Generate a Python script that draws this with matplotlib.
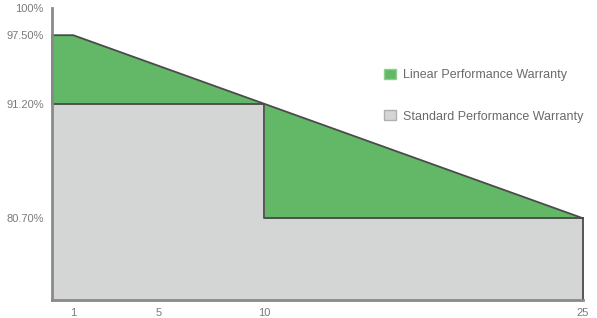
import matplotlib
matplotlib.use("Agg")
import matplotlib.pyplot as plt
from matplotlib.patches import Patch

# warranty curves (year -> % of nominal power)
linear_years = [0, 1, 10, 25]
linear_vals = [97.5, 97.5, 91.2, 80.7]
standard_years = [0, 10, 10, 25]
standard_vals = [91.2, 91.2, 80.7, 80.7]

x_ticks = [1, 5, 10, 25]
y_ticks = [80.7, 91.2, 97.5, 100]
y_labels = ["80.70%", "91.20%", "97.50%", "100%"]
series_names = ["Linear Performance Warranty", "Standard Performance Warranty"]

green = "#62b866"
grey = "#d4d6d6"
edge = "#4a4a4a"
txt = "#7a7a7a"
plt.rcParams["font.family"] = ["Liberation Sans", "DejaVu Sans"]

fig = plt.figure(figsize=(5.97, 3.18), dpi=100)
ax = fig.add_axes([0.0871, 0.0566, 0.8894, 0.9184])

# standard warranty (grey step)
ax.fill_between(standard_years, 0, standard_vals, color=grey, lw=0)
# linear warranty (green, between step and slope)
ax.fill_between([0, 1, 10], [97.5, 97.5, 91.2], [91.2, 91.2, 91.2], color=green, lw=0)
ax.fill_between([10, 25], [91.2, 80.7], [80.7, 80.7], color=green, lw=0)

ax.plot(linear_years, linear_vals, color=edge, lw=1.3, clip_on=False)
ax.plot(standard_years, standard_vals, color=edge, lw=1.3, clip_on=False)
ax.plot([0, 0], [91.2, 97.5], color=edge, lw=1.3, clip_on=False)
ax.plot([25, 25], [73.2, 80.7], color=edge, lw=1.3, clip_on=False)

ax.set_xlim(0, 25)
ax.set_ylim(73.2, 100)
ax.set_xticks(x_ticks)
ax.set_xticklabels([str(v) for v in x_ticks])
ax.set_yticks(y_ticks)
ax.set_yticklabels(y_labels)
ax.tick_params(length=0, labelsize=8, colors=txt, pad=6)
for s in ["top", "right"]:
    ax.spines[s].set_visible(False)
for s in ["left", "bottom"]:
    ax.spines[s].set_color("#8a8a8a")
    ax.spines[s].set_linewidth(2)

handles = [Patch(facecolor=green, edgecolor="#8fcf92", label=series_names[0]),
           Patch(facecolor=grey, edgecolor="#b0b0b0", label=series_names[1])]
leg = ax.legend(handles=handles, loc="upper left", bbox_to_anchor=(0.605, 0.83),
                frameon=False, fontsize=9, labelspacing=2.3,
                handlelength=0.9, handleheight=0.9, handletextpad=0.6)
for t in leg.get_texts():
    t.set_color("#6a6a6a")

plt.savefig("out.png", dpi=100)
